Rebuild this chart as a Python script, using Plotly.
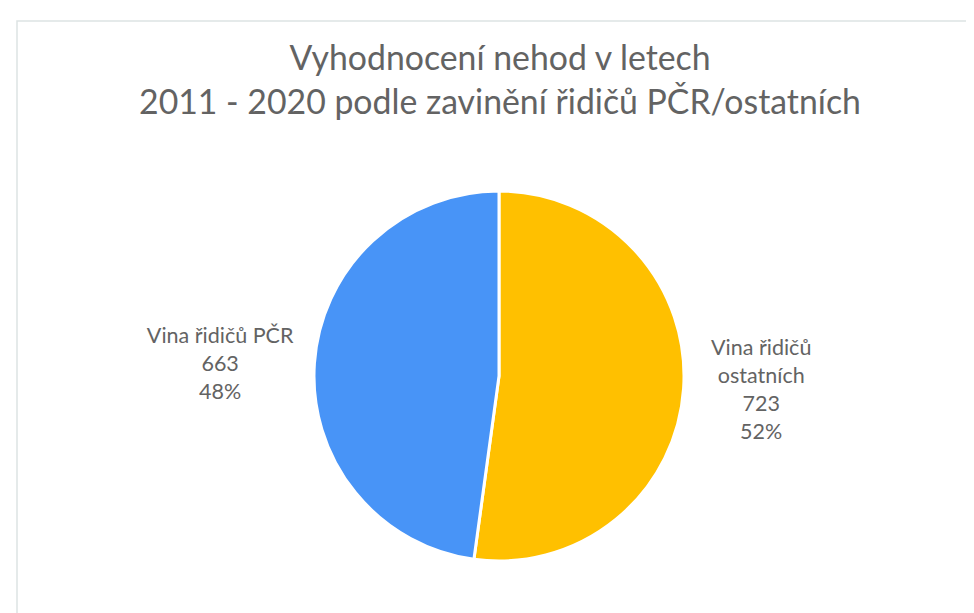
import plotly.graph_objects as go

labels = ["Vina řidičů<br>ostatních", "Vina řidičů PČR"]
values = [723, 663]
colors = ["#FFC000", "#4894F7"]

W, H = 974, 613
cx, cy, r = 491, 368, 185

fig = go.Figure()
fig.add_trace(go.Pie(
    labels=labels, values=values,
    marker=dict(colors=colors, line=dict(color="white", width=3)),
    sort=False, direction="clockwise", rotation=0,
    textposition="outside", textinfo="label+value+percent",
    texttemplate="%{label}<br>%{value}<br>%{percent:.0%}",
    textfont=dict(family="Lato", size=21.5, color="#636363"),
    showlegend=False, hoverinfo="label+value+percent",
    domain=dict(x=[(cx - r) / W, (cx + r) / W], y=[1 - (cy + r) / H, 1 - (cy - r) / H]),
))

fig.update_layout(
    width=W, height=H,
    margin=dict(l=0, r=0, t=0, b=0),
    paper_bgcolor="white", plot_bgcolor="white",
    title=dict(text="Vyhodnocení nehod v letech<br>2011 - 2020 podle zavinění řidičů PČR/ostatních",
               x=492 / W, xanchor="center", y=1 - 62 / H, yanchor="top", yref="container",
               font=dict(family="Lato", size=33.8, color="#636363")),
    shapes=[dict(type="rect", xref="paper", yref="paper",
                 x0=9 / W, x1=1.02, y0=-0.02, y1=1 - 13 / H,
                 line=dict(color="#DDE3E3", width=1.5), fillcolor="rgba(0,0,0,0)")],
)

fig.write_html("out.html")
